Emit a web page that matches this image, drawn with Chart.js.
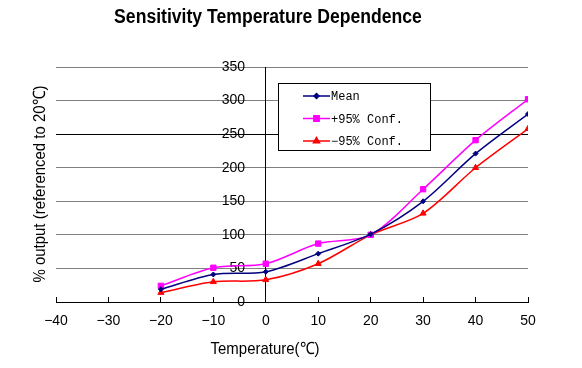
<!DOCTYPE html>
<html lang="en">
<head>
<meta charset="UTF-8" />
<title>Sensitivity Temperature Dependence</title>
<script src="https://cdn.jsdelivr.net/npm/chart.js"></script>
<style>
  html, body { margin: 0; padding: 0; background: #fff; }
  #wrap { width: 582px; height: 368px; }
</style>
</head>
<body>
<div id="wrap"><canvas id="chart" width="582" height="368"></canvas></div>
<script>
// values
const temps = [-20, -10, 0, 10, 20, 30, 40, 50];
const mean = [19, 41, 45, 72, 101, 150, 221, 280];
const upper = [24, 51, 57, 87, 100, 168, 241, 302];
const lower = [14, 30, 33, 57, 100, 132, 200, 258];
const seriesNames = ["Mean", "+95% Conf.", "\u221295% Conf."];

const titleText = "Sensitivity Temperature Dependence";
const xTitle = "Temperature(\u2103)";
const yTitle = "% output (referenced to 20\u2103)";

const sans = '"Liberation Sans", Arial, sans-serif';

function pts(ys) {
  return temps.map((t, i) => ({ x: t, y: ys[i] }));
}

// narrow-looking text: no condensed face installed, so squeeze horizontally
function narrowText(ctx, text, x, y, rot) {
  ctx.save();
  ctx.translate(x, y);
  if (rot) ctx.rotate(rot);
  ctx.scale(0.88, 1);
  ctx.fillText(text, 0, 0);
  ctx.restore();
}

// titles and the boxed legend
const extras = {
  id: "extras",
  afterDraw(chart) {
    const ctx = chart.ctx;
    ctx.save();
    ctx.fillStyle = "#000";
    ctx.textAlign = "center";
    ctx.textBaseline = "middle";
    ctx.font = "bold 20px " + sans;
    narrowText(ctx, titleText, 268, 17);
    ctx.font = "17px " + sans;
    narrowText(ctx, xTitle, 265, 349);
    narrowText(ctx, yTitle, 40, 184, -Math.PI / 2);
    ctx.restore();

    // legend
    ctx.save();
    ctx.fillStyle = "#fff";
    ctx.fillRect(278.5, 83.5, 152, 67);
    ctx.strokeStyle = "#000";
    ctx.lineWidth = 1;
    ctx.strokeRect(278.5, 83.5, 152, 67);
    ctx.font = '12px "Liberation Mono", "DejaVu Sans Mono", monospace';
    ctx.textAlign = "left";
    ctx.textBaseline = "middle";
    chart.data.datasets.forEach((ds, i) => {
      const y = 96 + i * 22.5;
      ctx.strokeStyle = ds.borderColor;
      ctx.lineWidth = 1.5;
      ctx.beginPath();
      ctx.moveTo(303, y);
      ctx.lineTo(330, y);
      ctx.stroke();
      ctx.fillStyle = ds.backgroundColor;
      Chart.helpers.drawPoint(ctx, {
        pointStyle: ds.pointStyle,
        radius: ds.pointRadius,
        borderWidth: 1
      }, 316.5, y);
      ctx.fillStyle = "#000";
      ctx.fillText(ds.label, 331, y + 1);
    });
    ctx.restore();
  }
};

const colors = ["#000080", "#ff00ff", "#ff0000"];
const styles = ["rectRot", "rect", "triangle"];
const radii = [2.5, 3.8, 3.5];
const values = [mean, upper, lower];

new Chart(document.getElementById("chart"), {
  type: "line",
  data: {
    datasets: values.map((v, i) => ({
      label: seriesNames[i],
      data: pts(v),
      borderColor: colors[i],
      backgroundColor: colors[i],
      pointStyle: styles[i],
      pointRadius: radii[i],
      pointBorderWidth: 1,
      borderWidth: 1.5,
      tension: 0.3,
      fill: false
    }))
  },
  options: {
    responsive: false,
    animation: false,
    layout: { padding: { left: 56, right: 54, top: 67, bottom: 0 } },
    plugins: {
      legend: { display: false },
      title: { display: false },
      tooltip: { enabled: false }
    },
    scales: {
      x: {
        type: "linear",
        position: "bottom",
        min: -40,
        max: 50,
        afterFit: s => { s.height = 66; },
        ticks: {
          stepSize: 10,
          padding: 16,
          color: "#000",
          font: { family: "Liberation Sans", size: 14 },
          callback: v => String(v).replace("-", "\u2212")
        },
        grid: {
          drawOnChartArea: false,
          drawTicks: true,
          tickLength: -5,
          color: "#000"
        },
        border: { color: "#000", width: 1 }
      },
      y: {
        type: "linear",
        position: { x: 0 },
        min: 0,
        max: 350,
        ticks: {
          stepSize: 50,
          color: "#000",
          font: { family: "Liberation Sans", size: 14 },
          // labels sit left of the axis with a gap (padding is ignored for value-positioned axes)
          callback: v => v + "     \u200a"
        },
        grid: {
          drawTicks: false,
          color: c => (c.tick && c.tick.value === 250 ? "#000" : "#808080"),
          lineWidth: 1
        },
        border: { color: "#000", width: 1 }
      }
    }
  },
  plugins: [extras]
});
</script>
</body>
</html>
